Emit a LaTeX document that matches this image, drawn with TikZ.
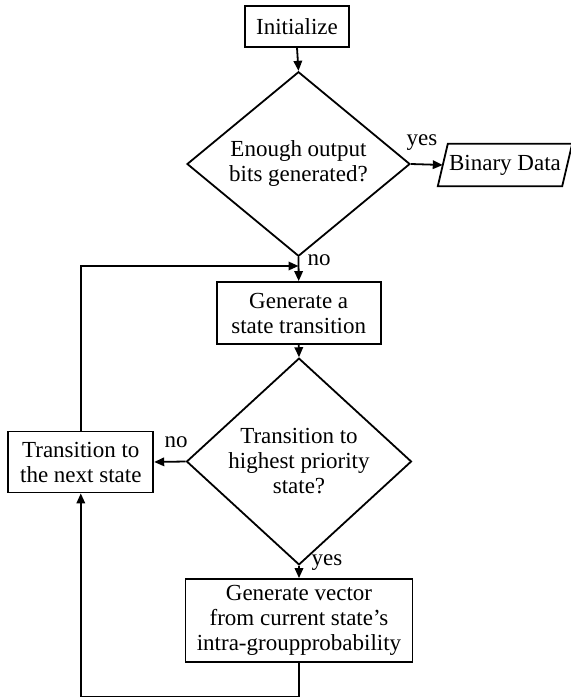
\documentclass[tikz,border=0pt]{standalone}
\usepackage{fontspec}
\setmainfont{Liberation Serif}
\usetikzlibrary{shapes.geometric,arrows.meta}
\begin{document}
\begin{tikzpicture}[x=1pt,y=-1pt,
  every node/.style={font=\fontsize{23}{25}\selectfont, inner sep=0pt, align=center},
  box/.style={draw, line width=1.8pt},
  dec/.style={draw, diamond, line width=1.8pt},
  lbl/.style={anchor=base},
  conn/.style={line width=1.8pt, -{Triangle[length=10pt,width=8.5pt]}},
  outline/.style={draw, line width=1.8pt}]
\useasboundingbox (0,0) rectangle (570,698);

\node[box, minimum width=104pt, minimum height=41pt] (init) at (297,26.5) {Initialize};
\node[dec, minimum width=223pt, minimum height=164pt] (d1) at (298.5,164) {Enough output\\bits generated?};
\node[minimum width=114pt, minimum height=42pt] (bd) at (505,165) {Binary Data};
\draw[outline] ([xshift=-10pt]bd.south west) -- (bd.south east) -- ([xshift=10pt]bd.north east) -- (bd.north west) -- cycle;
\node[box, minimum width=164pt, minimum height=62pt] (gen) at (298.7,313) {Generate a\\state transition};
\node[dec, minimum width=225pt, minimum height=167pt] (d2) at (299,461.5) {Transition to\\highest priority\\state?};
\node[box, minimum width=145pt, minimum height=61pt] (tr) at (80.8,462) {Transition to\\the next state};
\node[box, minimum width=227pt, minimum height=83pt] (vec) at (299,620.5) {Generate vector\\from current state's\\intra-groupprobability};

\coordinate (join) at (298.5,266);
\coordinate (bottom) at (299,696.5);

\draw[conn] (init.south) -- (d1.north);
\draw[conn] (d1.east) -- ([xshift=-5pt]bd.west);
\draw[conn] (d1.south) -- (gen.north);
\draw[conn] (tr.north) |- (join);
\draw[conn] (gen.south) -- (d2.north);
\draw[conn] (d2.west) -- (tr.east);
\draw[conn] (d2.south) -- (vec.north);
\draw[conn] (vec.south) -- (vec.south |- bottom) -| (tr.south);

\node[lbl] (lyes1) at (422,145) {yes};
\node[lbl] (lno1) at (319,265) {no};
\node[lbl] (lno2) at (176,447) {no};
\node[lbl] (lyes2) at (327,565) {yes};
\end{tikzpicture}
\end{document}
